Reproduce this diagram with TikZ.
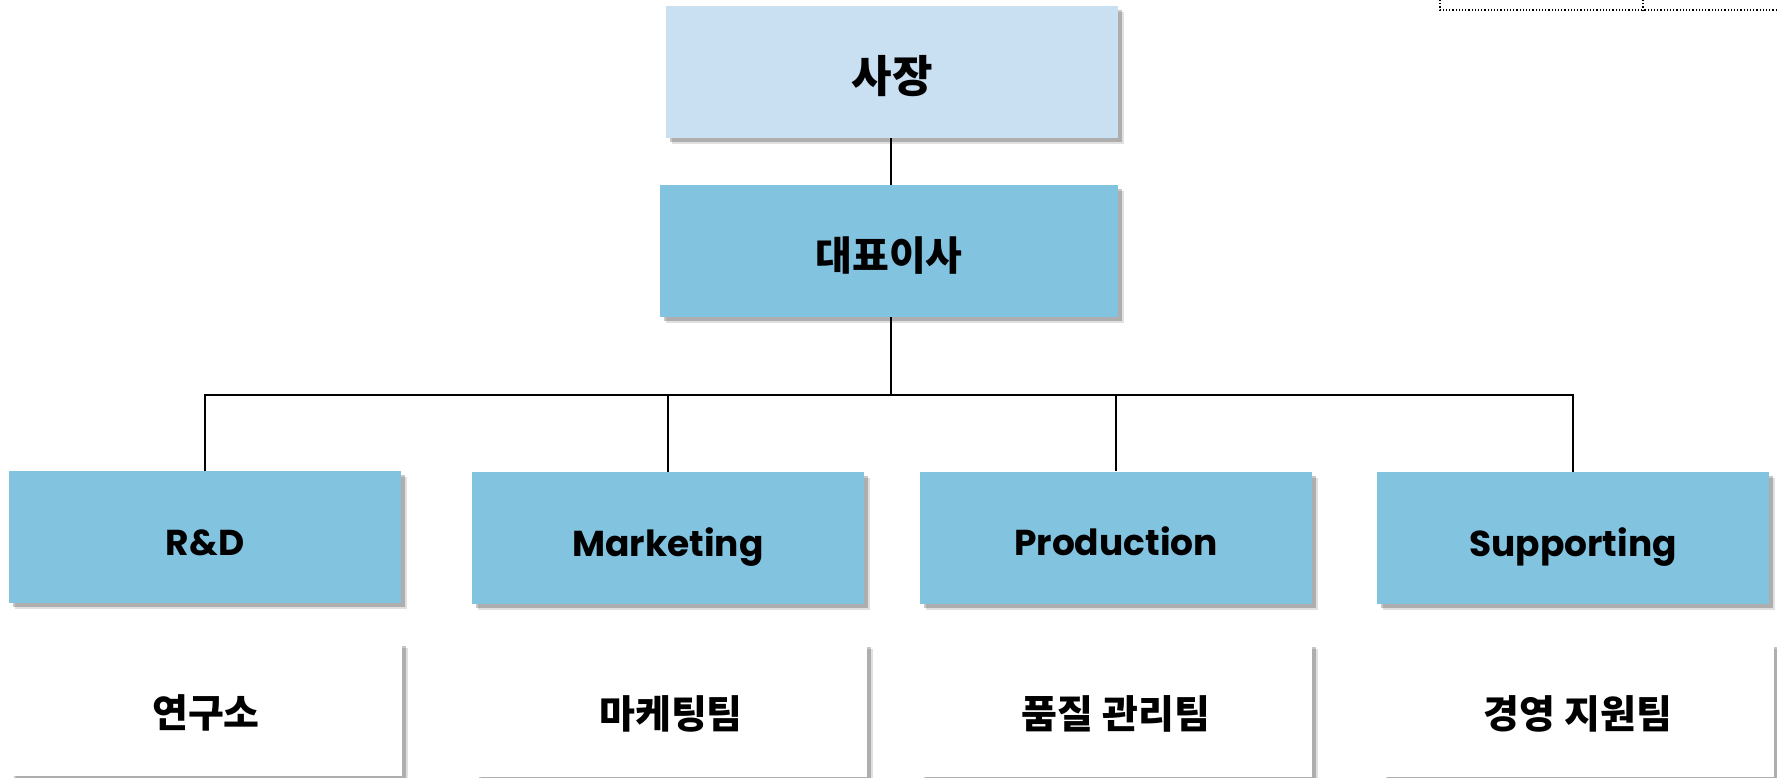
\documentclass[tikz,border=0pt]{standalone}
\usepackage{fontspec}
\setmainfont{Poppins}
\newfontfamily\kr{Noto Sans CJK KR}
\usetikzlibrary{shadows}
\definecolor{topblue}{RGB}{201,224,243}
\definecolor{midblue}{RGB}{130,195,224}
\tikzset{
  box/.style={rectangle, draw=none, minimum width=392pt, minimum height=132pt, inner sep=0pt,
    drop shadow={shadow xshift=6pt, shadow yshift=-6pt, fill=black, opacity=0.12},
    drop shadow={shadow xshift=4pt, shadow yshift=-4pt, fill=black, opacity=0.22}},
  topbox/.style={box, fill=topblue, minimum width=452pt, text height=43pt, text depth=2pt,
    font=\kr\bfseries\fontsize{44}{52}\selectfont},
  midbox/.style={box, fill=midblue, text height=40pt, text depth=2pt,
    font=\kr\bfseries\fontsize{40}{48}\selectfont},
  deptbox/.style={box, fill=midblue, text height=40pt, text depth=4pt,
    font=\bfseries\fontsize{36}{43}\selectfont},
  teambox/.style={box, fill=white, minimum height=134pt, text height=39.5pt, text depth=2pt,
    font=\kr\bfseries\fontsize{39}{46}\selectfont},
  link/.style={draw=black, line width=2pt},
  sel/.style={draw=black, line width=1.2pt, dotted}
}
\begin{document}
\begin{tikzpicture}[x=1pt,y=-1pt]
\useasboundingbox (0,0) rectangle (1777,778);
\fill[white] (0,0) rectangle (1777,778);
% nodes
\node[topbox] (ceo) at (892,72) {사장};
\node[midbox, minimum width=458pt] (rep) at (889,251) {대표이사};
\node[deptbox] (rd) at (205,537) {R\&D};
\node[deptbox] (mk) at (668,538) {Marketing};
\node[deptbox] (pr) at (1116,537.5) {Production};
\node[deptbox] (sp) at (1573,538) {Supporting};
\node[teambox] (t1) at (206,709) {연구소};
\node[teambox] (t2) at (671,710) {마케팅팀};
\node[teambox] (t3) at (1116,710) {품질 관리팀};
\node[teambox] (t4) at (1578,710) {경영 지원팀};
% connectors
\coordinate (bus) at (891,395);
\draw[link] (ceo.south -| bus) -- (rep.north -| bus);
\draw[link] (rep.south -| bus) -- (bus);
\draw[link] (rd.north) |- (bus) -| (sp.north);
\draw[link] (mk.north) -- (mk.north |- bus);
\draw[link] (pr.north) -- (pr.north |- bus);
% selection marks at top right
\coordinate (s1) at (1440,0);
\coordinate (s2) at (1643,0);
\coordinate (s3) at (1777,10);
\draw[sel] (s1) -- (s1 |- s3) -- (s3);
\draw[sel] (s2) -- (s2 |- s3);
\end{tikzpicture}
\end{document}
